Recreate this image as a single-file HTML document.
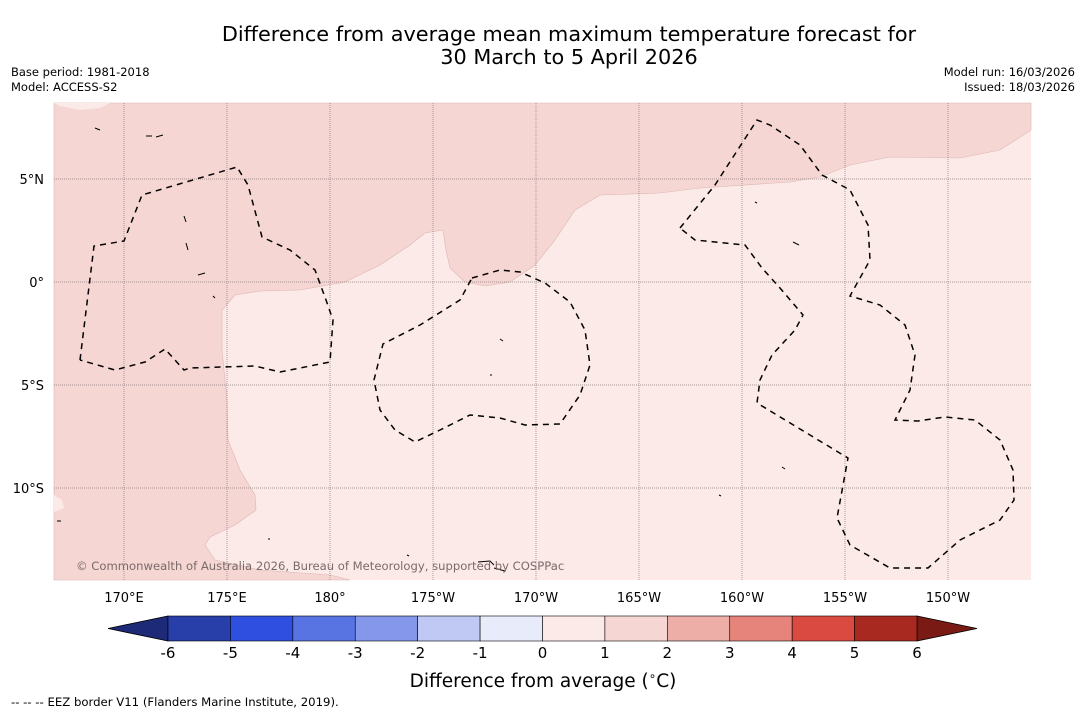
<!DOCTYPE html>
<html><head><meta charset="utf-8"><style>
body{margin:0;background:#fff;width:1085px;height:713px;overflow:hidden;font-family:"DejaVu Sans","Liberation Sans",sans-serif}
svg text{font-family:"DejaVu Sans","Liberation Sans",sans-serif}
</style></head><body>
<svg id="chart" width="1085" height="713" viewBox="0 0 1085 713" xmlns="http://www.w3.org/2000/svg">
<text x="569" y="41" font-size="20.8" text-anchor="middle" fill="#000">Difference from average mean maximum temperature forecast for</text>
<text x="569" y="64" font-size="20.8" text-anchor="middle" fill="#000">30 March to 5 April 2026</text>
<text x="11" y="76" font-size="11.5">Base period: 1981-2018</text>
<text x="11" y="91" font-size="11.5">Model: ACCESS-S2</text>
<text x="1075" y="76" font-size="11.5" text-anchor="end">Model run: 16/03/2026</text>
<text x="1075" y="91" font-size="11.5" text-anchor="end">Issued: 18/03/2026</text>
<g id="map">
<rect x="54" y="103" width="977" height="477" fill="#fbeae8"/>
<path fill="#f5d6d3" stroke="#dcb6b3" stroke-width="0.6" d="M54,103 L1031,103 L1031,130 L1000,150 L960,158 L890,157 L850,165 L820,177 L790,182 L700,188 L660,193 L600,195 L575,210 L555,240 L535,265 L510,282 L485,286 L465,282 L450,268 L446,250 L443,230 L425,233 L410,245 L380,265 L345,282 L300,290 L260,291 L235,295 L222,310 L222,350 L227,400 L228,440 L240,470 L255,495 L256,510 L235,525 L210,537 L205,545 L215,560 L260,570 L330,575 L350,580 L54,580 Z"/>
<path d="M54,103 L110,103 L100,108 L80,110 L60,106 Z" fill="#fbeae8"/>
<path d="M54,495 L62,500 L64,508 L54,512 Z" fill="#fbeae8"/>
<g id="grid" stroke="#8a7a7a" stroke-width="0.7" stroke-dasharray="1,1"></g>
<g fill="none" stroke="#000" stroke-width="1.5" stroke-dasharray="6,5">
<path d="M80,360 L94,246 L124,241 L142,195 L237,167 L248,185 L262,237 L290,250 L315,270 L326,300 L333,320 L330,362 L300,368 L280,372 L255,366 L190,368 L184,370 L165,349 L145,362 L115,370 L80,360"/>
<path d="M472,278 L500,270 L520,272 L545,283 L570,302 L585,330 L590,365 L580,395 L560,424 L525,425 L500,418 L470,415 L440,430 L415,442 L395,430 L380,410 L374,380 L383,344 L420,325 L460,300 Z"/>
<path d="M680,228 L715,185 L757,120 L770,125 L800,145 L822,175 L850,190 L868,225 L870,260 L850,296 L880,305 L905,325 L915,355 L910,390 L895,420 L918,421 L945,417 L975,420 L1000,440 L1013,470 L1014,500 L1000,520 L960,540 L928,568 L890,568 L850,545 L837,518 L848,458 L757,403 L760,380 L772,355 L795,330 L803,315 L780,288 L762,268 L745,245 L695,240 Z"/>
</g>
<g fill="none" stroke="#000" stroke-width="1">
<path d="M146,136 L152,136 M156,137 L163,135 M95,128 L100,130 M184,216 L186,222 M186,243 L188,250 M198,275 L205,273 M213,296 L215,298 M500,339 L503,341 M490,375 L492,375 M755,202 L757,203 M793,242 L799,245 M782,467 L785,469 M719,495 L721,496 M478,562 L490,561 L494,565 M494,568 L505,571 M407,555 L409,556 M268,539 L270,539 M57,521 L61,521"/>
</g>
<text x="76" y="570" font-size="11.6" fill="#7a6a6a">© Commonwealth of Australia 2026, Bureau of Meteorology, supported by COSPPac</text>
</g>
<g id="axislabels" font-size="13" fill="#000"></g>
<g id="colorbar"></g>
<text x="543" y="687" font-size="18.5" text-anchor="middle">Difference from average (<tspan font-size="12" dy="-7">∘</tspan><tspan dy="7">C)</tspan></text>
<text x="11" y="706" font-size="11.7">--  --  -- EEZ border V11 (Flanders Marine Institute, 2019).</text>
</svg>
<script>
const lonTicks = ["170°E","175°E","180°","175°W","170°W","165°W","160°W","155°W","150°W"];
const lonValues = [170,175,180,185,190,195,200,205,210];
const latTicks = ["5°N","0°","5°S","10°S"];
const latValues = [5,0,-5,-10];
const cbBounds = [-6,-5,-4,-3,-2,-1,0,1,2,3,4,5,6];
const cbColors = ["#283ea8","#2f4fe0","#5874e3","#8497ea","#c0c8f4","#e8ebf9","#fbeae8","#f5d6d3","#eeaea8","#e6847c","#db4a40","#a8291f"];
const cbUnder = "#1c2a78", cbOver = "#7a1a14";

const NS="http://www.w3.org/2000/svg";
const xLon = l => 124 + (l-170)*20.6;
const yLat = v => 282 - v*20.6;
const xCb = v => 168 + (v+6)*(749/12);
function mk(tag, attrs, parent){const e=document.createElementNS(NS,tag);for(const k in attrs)e.setAttribute(k,attrs[k]);parent.appendChild(e);return e;}
const grid=document.getElementById('grid'), ax=document.getElementById('axislabels'), cb=document.getElementById('colorbar');
lonValues.forEach((l,i)=>{
  const x=xLon(l);
  const ln=mk('line',{x1:x,x2:x,y1:103,y2:580},grid);
  
  
  const t=mk('text',{x:x,y:602,'text-anchor':'middle'},ax);t.textContent=lonTicks[i];
  
  
});
latValues.forEach((v,i)=>{
  const y=yLat(v);
  const ln=mk('line',{x1:54,x2:1031,y1:y,y2:y},grid);
  
  
  const t=mk('text',{x:44,y:y+5,'text-anchor':'end'},ax);t.textContent=latTicks[i];
  
  
});
const y0=616,y1=641;
const under=mk('polygon',{points:`108,${(y0+y1)/2} ${xCb(cbBounds[0])},${y0} ${xCb(cbBounds[0])},${y1}`,fill:cbUnder,stroke:'#000','stroke-width':0.8},cb);


const last=cbBounds[cbBounds.length-1];
const over=mk('polygon',{points:`977,${(y0+y1)/2} ${xCb(last)},${y0} ${xCb(last)},${y1}`,fill:cbOver,stroke:'#000','stroke-width':0.8},cb);


cbColors.forEach((c,i)=>{
  const xa=xCb(cbBounds[i]), xb=xCb(cbBounds[i+1]);
  const r=mk('rect',{x:xa,y:y0,width:xb-xa,height:y1-y0,fill:c,stroke:'#000','stroke-width':0.6},cb);
  
  
});
cbBounds.forEach(v=>{
  const t=mk('text',{x:xCb(v),y:658,'text-anchor':'middle','font-size':15},cb);t.textContent=String(v);
  
  
});
</script>
</body></html>
